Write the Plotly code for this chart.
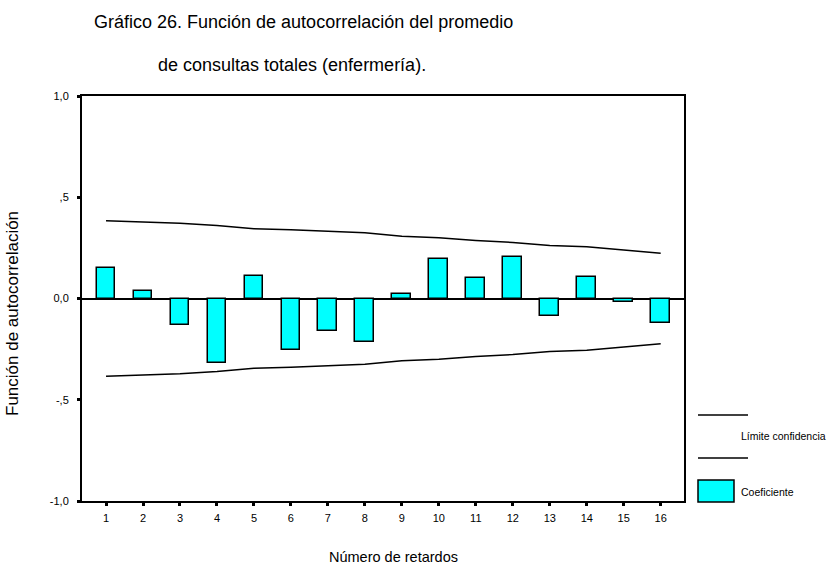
import plotly.graph_objects as go

# ---- data ----
lags = list(range(1, 17))
coeficiente = [0.151, 0.038, -0.130, -0.319, 0.112, -0.252, -0.161, -0.214,
               0.021, 0.196, 0.099, 0.204, -0.084, 0.105, -0.016, -0.122]
limite_sup = [0.384, 0.378, 0.372, 0.361, 0.345, 0.340, 0.332, 0.325,
              0.308, 0.300, 0.287, 0.277, 0.262, 0.256, 0.240, 0.224]
limite_inf = [-v for v in limite_sup]
ytick_vals = [-1.0, -0.5, 0.0, 0.5, 1.0]
ytick_text = ["-1,0", "-,5", "0,0", ",5", "1,0"]

W, H = 828, 567
L, R, T, B = 82, 684, 96, 501
FONT = "Liberation Sans, Arial, sans-serif"

def px(x):
    return (x - L) / (R - L)

def py(y):
    return (B - y) / (B - T)

fig = go.Figure()
fig.add_trace(go.Bar(x=lags, y=coeficiente, width=0.51,
                     marker=dict(color="#00FFFF", line=dict(color="black", width=1.5)),
                     showlegend=False, hoverinfo="skip"))
fig.add_trace(go.Scatter(x=lags, y=limite_sup, mode="lines",
                         line=dict(color="black", width=1.5), showlegend=False,
                         hoverinfo="skip"))
fig.add_trace(go.Scatter(x=lags, y=limite_inf, mode="lines",
                         line=dict(color="black", width=1.5), showlegend=False,
                         hoverinfo="skip"))

fig.update_layout(
    width=W, height=H,
    margin=dict(l=L, r=W - R, t=T, b=H - B),
    paper_bgcolor="white", plot_bgcolor="white",
    font=dict(family=FONT, color="black"),
    bargap=0,
)
fig.update_xaxes(range=[0.35, 16.63], tickvals=lags, ticktext=[str(v) for v in lags],
                 ticks="outside", ticklen=3, tickwidth=3, tickcolor="black",
                 showline=True, linecolor="black", linewidth=2, mirror=True,
                 showgrid=False, zeroline=False, tickfont=dict(size=11),
                 ticklabelstandoff=3)
fig.update_yaxes(range=[-1, 1], tickvals=ytick_vals, ticktext=ytick_text,
                 ticks="outside", ticklen=3, tickwidth=3, tickcolor="black",
                 showline=True, linecolor="black", linewidth=2, mirror=True,
                 showgrid=False, zeroline=True, zerolinecolor="black", zerolinewidth=1.5,
                 tickfont=dict(size=11), ticklabelstandoff=6)

ann = [
    dict(text="Gráfico 26. Función de autocorrelación del promedio", x=px(92), y=py(22),
         xanchor="left", yanchor="middle", font=dict(size=18)),
    dict(text="de consultas totales (enfermería).", x=px(156), y=py(65),
         xanchor="left", yanchor="middle", font=dict(size=18)),
    dict(text="Número de retardos", x=px(393), y=py(557),
         xanchor="center", yanchor="middle", font=dict(size=14.5)),
    dict(text="Función de autocorrelación", x=px(12), y=py(314), textangle=-90,
         xanchor="center", yanchor="middle", font=dict(size=17)),
    dict(text="Límite confidencia", x=px(739), y=py(436),
         xanchor="left", yanchor="middle", font=dict(size=10.5)),
    dict(text="Coeficiente", x=px(739), y=py(492),
         xanchor="left", yanchor="middle", font=dict(size=10.5)),
]
for a in ann:
    a.update(xref="paper", yref="paper", showarrow=False)
    fig.add_annotation(**a)

fig.add_shape(type="line", xref="paper", yref="paper", x0=px(698), x1=px(748),
              y0=py(415), y1=py(415), line=dict(color="black", width=1.5))
fig.add_shape(type="line", xref="paper", yref="paper", x0=px(698), x1=px(748),
              y0=py(458), y1=py(458), line=dict(color="black", width=1.5))
fig.add_shape(type="rect", xref="paper", yref="paper", x0=px(698), x1=px(734),
              y0=py(502), y1=py(480), fillcolor="#00FFFF",
              line=dict(color="black", width=1.5))

fig.write_html("out.html", config={"displayModeBar": False},
               post_script="document.body.style.margin='0px';document.body.style.overflow='hidden';")
